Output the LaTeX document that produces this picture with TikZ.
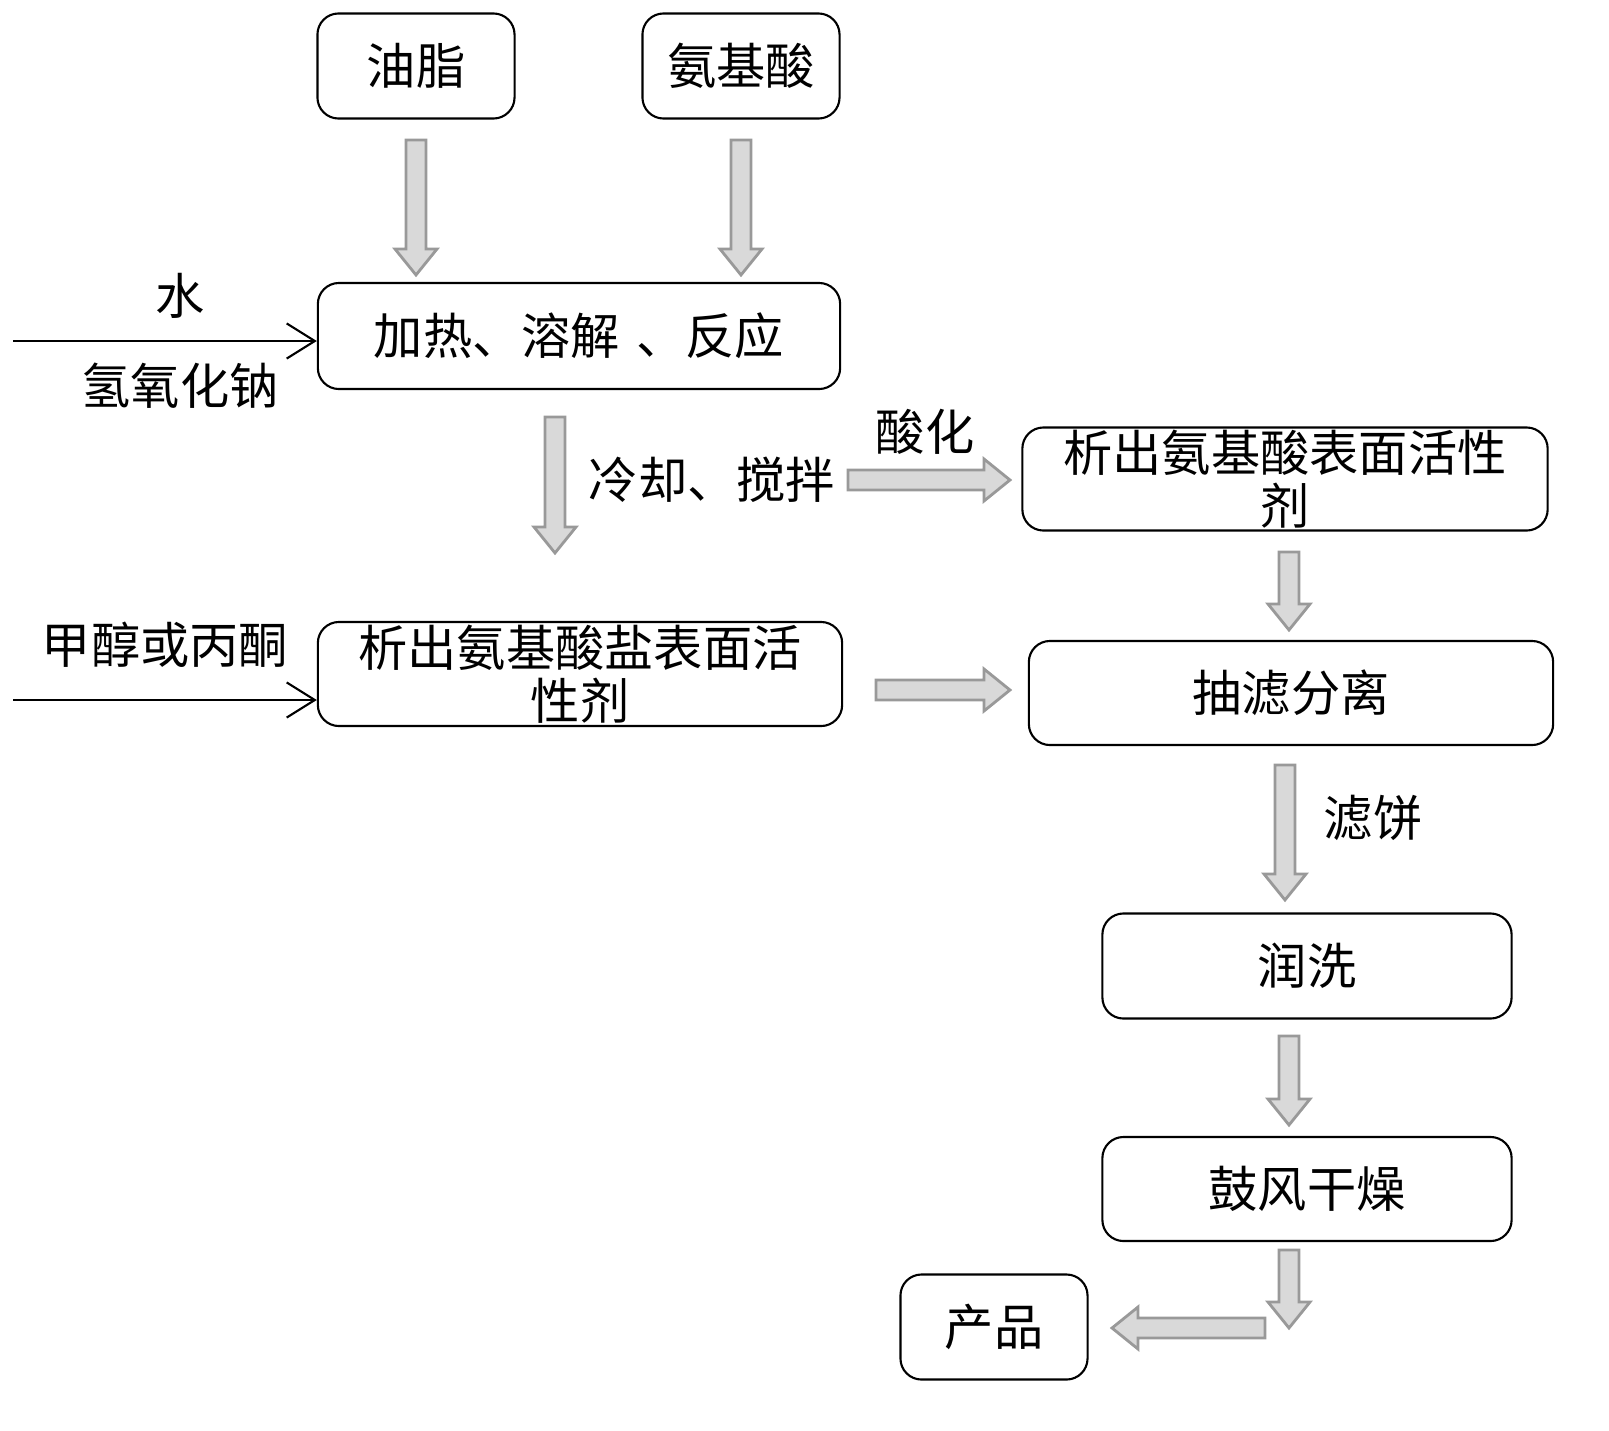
\documentclass[tikz,border=0pt]{standalone}
\usepackage{fontspec}
\setmainfont{Noto Sans CJK SC}
\usetikzlibrary{arrows.meta}
\tikzset{
  box/.style={draw, rounded corners=6pt, semithick, align=center, inner sep=0pt},
  lbl/.style={inner sep=1pt},
  thin/.style={-{Straight Barb[length=8pt,width=10pt]}, semithick},
}
% gray block arrow: #1 start, #2 angle, #3 length (px)
\newcommand\garrow[3]{%
  \begin{scope}[shift={#1}, rotate=#2]
    \filldraw[draw=gray!80, fill=gray!30, line width=0.8pt]
      (0,-10) -- ({#3-26},-10) -- ({#3-26},-21) -- (#3,0) -- ({#3-26},21)
      -- ({#3-26},10) -- (0,10) -- cycle;
  \end{scope}}
\begin{document}
\begin{tikzpicture}[x=0.01cm, y=-0.01cm, font=\fontsize{14}{15}\selectfont]
  \useasboundingbox (0,0) rectangle (1609,1430);
  % boxes
  \node[box, text width=1.97cm, minimum height=1.05cm] (oil) at (416,66) {油脂};
  \node[box, text width=1.97cm, minimum height=1.05cm] (amino) at (741,66) {氨基酸};
  \node[box, text width=5.22cm, minimum height=1.06cm] (heat) at (579,336) {加热、溶解 、反应};
  \node[box, text width=5.25cm, minimum height=1.03cm] (acid) at (1285,479) {析出氨基酸表面活性\\剂};
  \node[box, text width=5.24cm, minimum height=1.04cm] (salt) at (580,674) {析出氨基酸盐表面活\\性剂};
  \node[box, text width=5.24cm, minimum height=1.04cm] (filter) at (1291,693) {抽滤分离};
  \node[box, text width=4.09cm, minimum height=1.05cm] (rinse) at (1307,966) {润洗};
  \node[box, text width=4.09cm, minimum height=1.04cm] (dry) at (1307,1189) {鼓风干燥};
  \node[box, text width=1.87cm, minimum height=1.05cm] (prod) at (994,1327) {产品};
  % feeds
  \coordinate (w0) at (13,341);
  \coordinate (m0) at (13,700);
  \draw[thin] (w0) -- (w0 -| heat.west) node[pos=0.55, above=5pt, lbl] {水}
    node[pos=0.55, below=5pt, lbl] {氢氧化钠};
  \draw[thin] (m0) -- (m0 -| salt.west) node[pos=0.5, above=8pt, lbl] {甲醇或丙酮};
  % block arrows
  \garrow{(416,140)}{-90}{135}
  \garrow{(741,140)}{-90}{135}
  \garrow{(555,417)}{-90}{136}
  \garrow{(848,480)}{0}{162}
  \garrow{(1289,552)}{-90}{78}
  \garrow{(876,690)}{0}{134}
  \garrow{(1285,765)}{-90}{135}
  \garrow{(1289,1036)}{-90}{89}
  \garrow{(1289,1250)}{-90}{78}
  \garrow{(1265,1328)}{180}{153}
  % labels
  \node[lbl] (cool) at (712,480) {冷却、搅拌};
  \node[lbl] (acidify) at (925,432) {酸化};
  \node[lbl] (cake) at (1373,818) {滤饼};
\end{tikzpicture}
\end{document}
